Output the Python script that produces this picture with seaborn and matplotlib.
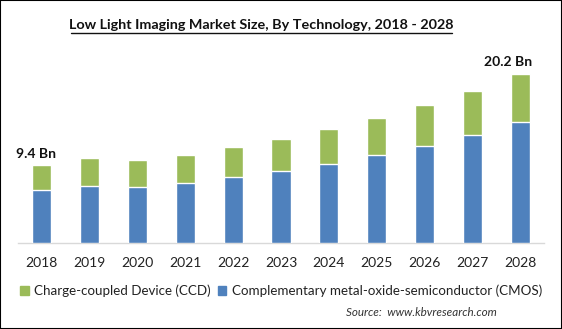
import matplotlib
matplotlib.use("Agg")
import matplotlib.pyplot as plt
import matplotlib.patches as mpatches
import seaborn as sns
import pandas as pd

years = ["2018", "2019", "2020", "2021", "2022", "2023", "2024", "2025", "2026", "2027", "2028"]
cmos = [6.35, 6.8, 6.7, 7.2, 7.9, 8.6, 9.45, 10.5, 11.6, 12.9, 14.5]
ccd = [3.05, 3.4, 3.2, 3.3, 3.6, 3.9, 4.2, 4.5, 4.9, 5.3, 5.7]
series_names = ["Charge-coupled Device (CCD)", "Complementary metal-oxide-semiconductor (CMOS)"]
title = "Low Light Imaging Market Size, By Technology, 2018 - 2028"
source = "Source:  www.kbvresearch.com"

blue = "#4F81BD"
green = "#9BBB59"

df = pd.DataFrame({"year": years, "cmos": cmos, "ccd": ccd})
df["total"] = df["cmos"] + df["ccd"]

sns.set_theme(style="white")
plt.rcParams["font.family"] = ["Lato", "DejaVu Sans"]

W, H = 562, 329
fig = plt.figure(figsize=(W / 100, H / 100), dpi=100)
ax = fig.add_axes([18 / W, 86 / H, 526 / W, 193 / H])

# stacked bars: full height in green, CMOS portion drawn over it in blue
sns.barplot(data=df, x="year", y="total", color=green, width=0.4,
            saturation=1, ax=ax, zorder=2)
sns.barplot(data=df, x="year", y="cmos", color=blue, width=0.4,
            saturation=1, ax=ax, zorder=3)

ax.set_xlim(-0.49, 10.49)
ax.set_ylim(0, 193 / 8.35)
ax.set_xlabel("")
ax.set_ylabel("")
ax.set_yticks([])
for s in ["top", "right", "left"]:
    ax.spines[s].set_visible(False)
ax.spines["bottom"].set_color("#d9d9d9")
ax.spines["bottom"].set_linewidth(1)
ax.tick_params(axis="x", length=0, pad=10, labelsize=10, labelcolor="#222222")

# value labels on first and last bar
first, last = 0, len(years) - 1
ax.text(first - 0.12, df["total"][first] + 0.55, f"{df['total'][first]:.1f} Bn",
        ha="center", va="bottom", fontsize=10, fontweight="bold", color="#111111")
ax.text(last - 0.26, df["total"][last] + 0.75, f"{df['total'][last]:.1f} Bn",
        ha="center", va="bottom", fontsize=10, fontweight="bold", color="#111111")

fig.text(261.5 / W, 1 - 25 / H, title, ha="center", va="center", fontsize=10.4,
         fontweight="bold", color="#111111")
# underline under the title
fig.add_artist(plt.Line2D([71 / W, 452 / W], [1 - 32.5 / H, 1 - 32.5 / H],
                          color="#111111", lw=1))

handles = [mpatches.Patch(color=green, label=series_names[0]),
           mpatches.Patch(color=blue, label=series_names[1])]
fig.legend(handles=handles, loc="center", bbox_to_anchor=(0.5, 1 - 291 / H),
           ncol=2, frameon=False, fontsize=9.6, handlelength=0.65,
           handleheight=0.65, handletextpad=0.4, columnspacing=0.5,
           labelcolor="#222222")

fig.text(497 / W, 1 - 313 / H, source, ha="right", va="center", fontsize=8.4,
         style="italic", color="#333333")

fig.add_artist(mpatches.Rectangle((0, 0), 1, 1, transform=fig.transFigure,
                                  fill=False, edgecolor="black", lw=1.5))

fig.savefig("out.png", dpi=100)
